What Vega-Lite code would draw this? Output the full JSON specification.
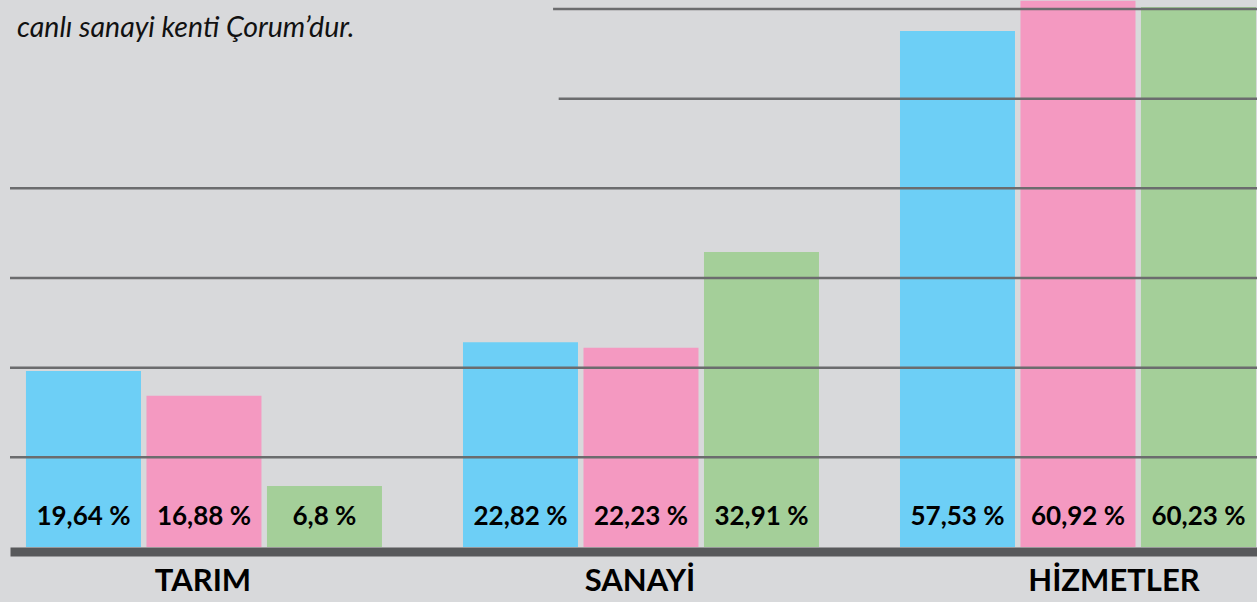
{
  "$schema": "https://vega.github.io/schema/vega-lite/v6.json",
  "width": 1247,
  "height": 547,
  "autosize": {"type": "none"},
  "padding": {"left": 10, "top": 0, "right": 0, "bottom": 55},
  "background": "#d8d9db",
  "config": {"view": {"stroke": null}},
  "datasets": {
    "bars": [
      {"kategori": "TARIM", "seri": "1", "deger": 19.64, "etiket": "19,64 %"},
      {"kategori": "TARIM", "seri": "2", "deger": 16.88, "etiket": "16,88 %"},
      {"kategori": "TARIM", "seri": "3", "deger": 6.8, "etiket": "6,8 %"},
      {"kategori": "SANAYİ", "seri": "1", "deger": 22.82, "etiket": "22,82 %"},
      {"kategori": "SANAYİ", "seri": "2", "deger": 22.23, "etiket": "22,23 %"},
      {"kategori": "SANAYİ", "seri": "3", "deger": 32.91, "etiket": "32,91 %"},
      {"kategori": "HİZMETLER", "seri": "1", "deger": 57.53, "etiket": "57,53 %"},
      {"kategori": "HİZMETLER", "seri": "2", "deger": 60.92, "etiket": "60,92 %"},
      {"kategori": "HİZMETLER", "seri": "3", "deger": 60.23, "etiket": "60,23 %"}
    ],
    "grid": [
      {"v": 10, "bas": 0},
      {"v": 20, "bas": 0},
      {"v": 30, "bas": 0},
      {"v": 40, "bas": 0},
      {"v": 50, "bas": 0.44},
      {"v": 60, "bas": 0.4355}
    ],
    "note": [
      {"metin": "canlı sanayi kenti Çorum’dur.", "x": 0, "y": 56.9}
    ]
  },
  "layer": [
    {
      "data": {"name": "bars"},
      "encoding": {
        "x": {
          "field": "kategori",
          "type": "nominal",
          "sort": null,
          "scale": {"paddingInner": 0.1854, "paddingOuter": 0.01945, "align": 0.94},
          "axis": {
            "title": null,
            "domainColor": "#58595b",
            "domainWidth": 9,
            "ticks": false,
            "tickSize": 0,
            "offset": 4.5,
            "labelAngle": 0,
            "labelFont": "Lato",
            "labelFontWeight": "bold",
            "labelFontSize": 31,
            "labelColor": "#000000",
            "labelPadding": 30,
            "labelBaseline": "middle",
            "labelOffset": {"condition": {"test": "datum.value === 'HİZMETLER'", "value": 36}, "value": -1}
          }
        },
        "xOffset": {"field": "seri", "type": "nominal", "scale": {"paddingInner": 0.0456, "paddingOuter": 0}},
        "y": {"field": "deger", "type": "quantitative", "scale": {"domain": [0, 61], "nice": false}, "axis": null}
      },
      "layer": [
        {
          "mark": {"type": "bar"},
          "encoding": {
            "color": {"field": "seri", "type": "nominal", "scale": {"range": ["#6dcff6", "#f499c1", "#a4cf99"]}, "legend": null}
          }
        },
        {
          "mark": {"type": "text", "font": "Lato", "fontWeight": "bold", "fontSize": 26, "color": "#000000", "baseline": "middle", "align": "center", "dy": -30},
          "encoding": {
            "y": {"datum": 0, "type": "quantitative"},
            "text": {"field": "etiket"}
          }
        }
      ]
    },
    {
      "layer": [
        {
          "data": {"name": "grid"},
          "mark": {"type": "rule", "color": "#6b6c6e", "strokeWidth": 2.5},
          "encoding": {
            "y": {"field": "v", "type": "quantitative", "axis": null},
            "x": {"field": "bas", "type": "quantitative", "scale": {"domain": [0, 1], "nice": false}, "axis": null},
            "x2": {"datum": 1}
          }
        },
        {
          "data": {"name": "note"},
          "mark": {"type": "text", "font": "Lato", "fontStyle": "italic", "fontSize": 28.5, "color": "#111111", "align": "left", "baseline": "alphabetic", "dx": 7},
          "encoding": {
            "x": {"field": "x", "type": "quantitative", "scale": {"domain": [0, 1], "nice": false}, "axis": null},
            "y": {"field": "y", "type": "quantitative", "axis": null},
            "text": {"field": "metin"}
          }
        }
      ]
    }
  ],
  "resolve": {"scale": {"x": "independent"}}
}
